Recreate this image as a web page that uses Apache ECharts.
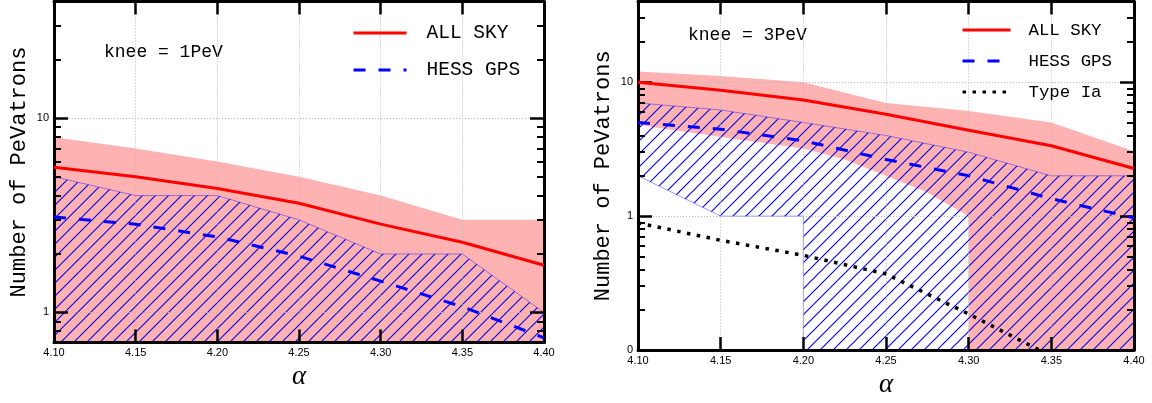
<!DOCTYPE html>
<html>
<head>
<meta charset="utf-8">
<script src="https://cdn.jsdelivr.net/npm/echarts@6/dist/echarts.min.js"></script>
<style>
html, body { margin: 0; padding: 0; background: #fff; }
#chart { width: 1152px; height: 403px; }
</style>
</head>
<body>
<div id="chart"></div>
<script>
var alpha = [4.10, 4.15, 4.20, 4.25, 4.30, 4.35, 4.40]

// knee = 1PeV
var allSky1 = [5.6, 5.0, 4.35, 3.65, 2.85, 2.3, 1.75]
var allSkyHi1 = [8, 7, 6, 5, 4, 3, 3]
var allSkyLo1 = [0, 0, 0, 0, 0, 0, 0]
var hess1 = [3.1, 2.85, 2.45, 1.95, 1.45, 1.07, 0.74]
var hessHi1 = [5, 4, 4, 3, 2, 2, 1]
var hessLo1 = [0, 0, 0, 0, 0, 0, 0]

// knee = 3PeV
var allSky2 = [10, 8.7, 7.35, 5.77, 4.38, 3.35, 2.27]
var allSkyHi2 = [12, 11.1, 10, 7, 6.1, 5, 3.05]
var allSkyLoX2 = [4.10, 4.15, 4.20, 4.225, 4.25, 4.275, 4.30, 4.30, 4.40]
var allSkyLo2 = [4.8, 3.9, 3.2, 2.65, 2.0, 1.5, 1.0, 0, 0]
var hess2 = [5.0, 4.45, 3.65, 2.65, 2.0, 1.35, 0.97]
var hessHi2 = [7, 6.2, 5, 4, 3, 2, 2]
var hessLoX2 = [4.10, 4.15, 4.20, 4.20, 4.40]
var hessLo2 = [2, 1, 1, 0, 0]
var typeIa2 = [0.89, 0.66, 0.51, 0.37, 0.186, 0.09, null]

// y ticks
var yTicks1 = [1, 10]
var yLabels1 = ["1", "10"]
var yMinor1 = [0.8, 0.9, 2, 3, 4, 5, 6, 7, 8, 9, 20, 30]
var yTicks2 = [0.1, 1, 10]
var yLabels2 = ["0", "1", "10"]
var yMinor2 = [0.2, 0.3, 0.4, 0.5, 0.6, 0.7, 0.8, 0.9, 2, 3, 4, 5, 6, 7, 8, 9, 20, 30]

var MONO = '"Liberation Mono", "DejaVu Sans Mono", monospace'
var SANS = '"Liberation Sans", Arial, sans-serif'
var PINK = "#ffb2b2"

function makeHatch() {
  var s = 13
  var c = document.createElement("canvas")
  c.width = s
  c.height = s
  var g = c.getContext("2d")
  g.strokeStyle = "#0000ff"
  g.lineWidth = 1.1
  g.beginPath()
  g.moveTo(-s, s); g.lineTo(s, -s)
  g.moveTo(0, s); g.lineTo(s, 0)
  g.moveTo(0, 2 * s); g.lineTo(2 * s, 0)
  g.stroke()
  return { image: c, repeat: "repeat" }
}
var hatch = makeHatch()

function xAxes(grid) {
  var common = {
    type: "value", gridIndex: grid, min: 4.1, max: 4.4, interval: 0.05, z: 3,
    axisLine: { show: true, lineStyle: { color: "#000", width: 3 } },
    axisTick: { show: true, inside: true, length: 13, lineStyle: { color: "#000", width: 2.5 } }
  }
  var bottom = Object.assign({}, common, {
    position: "bottom",
    axisLabel: { show: true, margin: 5, fontSize: 11, fontFamily: SANS, color: "#000",
      formatter: function (v) { return v.toFixed(2) } },
    splitLine: { show: true, lineStyle: { color: "#b8b8b8", width: 1, type: [1, 2] } },
    name: "α", nameLocation: "middle", nameGap: 20,
    nameTextStyle: { fontFamily: '"Liberation Serif", "DejaVu Serif", serif', fontStyle: "italic", fontSize: 27, color: "#000" }
  })
  var top = Object.assign({}, common, {
    position: "top", axisLabel: { show: false }, splitLine: { show: false }
  })
  return [bottom, top]
}

function yAxes(grid, min, max, ticks, labels, minors) {
  var base = { type: "log", logBase: 10, gridIndex: grid, min: min, max: max, z: 3,
    axisLine: { show: false }, axisLabel: { show: false }, splitLine: { show: false } }
  var majorTick = { show: true, inside: true, length: 14, customValues: ticks, lineStyle: { color: "#000", width: 2.5 } }
  var minorTick = { show: true, inside: true, length: 7, customValues: minors, lineStyle: { color: "#000", width: 2 } }
  return [
    Object.assign({}, base, {
      position: "left",
      axisLine: { show: true, lineStyle: { color: "#000", width: 3 } },
      axisTick: majorTick,
      axisLabel: { show: true, customValues: ticks, margin: 5, fontSize: 11, fontFamily: SANS, color: "#000",
        formatter: function (v) {
          for (var i = 0; i < ticks.length; i++) if (Math.abs(v - ticks[i]) < ticks[i] * 1e-6) return labels[i]
          return ""
        } },
      splitLine: { show: true, lineStyle: { color: "#b8b8b8", width: 1, type: [1, 2] } },
      name: "Number of PeVatrons", nameLocation: "middle", nameGap: 24,
      nameTextStyle: { fontFamily: MONO, fontSize: 22, color: "#000" }
    }),
    Object.assign({}, base, { position: "left", axisTick: minorTick }),
    Object.assign({}, base, { position: "right",
      axisLine: { show: true, lineStyle: { color: "#000", width: 3 } }, axisTick: majorTick }),
    Object.assign({}, base, { position: "right", axisTick: minorTick })
  ]
}

function band(xi, yi, upX, upY, loX, loY, yMin, fill, stroke, z) {
  return {
    type: "custom", xAxisIndex: xi, yAxisIndex: yi, z: z, clip: true, silent: true,
    data: [[upX[0], upY[0]]],
    renderItem: function (params, api) {
      var pts = []
      for (var i = 0; i < upX.length; i++) pts.push(api.coord([upX[i], Math.max(upY[i], yMin)]))
      for (var j = loX.length - 1; j >= 0; j--) pts.push(api.coord([loX[j], Math.max(loY[j], yMin)]))
      return { type: "polygon", shape: { points: pts },
        style: { fill: fill, stroke: stroke, lineWidth: stroke ? 1 : 0 } }
    }
  }
}

function line(name, xi, yi, ys, color, dash, width) {
  var d = []
  for (var i = 0; i < alpha.length; i++) if (ys[i] != null) d.push([alpha[i], ys[i]])
  return {
    name: name, type: "line", xAxisIndex: xi, yAxisIndex: yi, data: d, symbol: "none", z: 5, silent: true,
    lineStyle: { color: color, width: width, type: dash, cap: "butt" }, itemStyle: { color: color }
  }
}

var myChart = echarts.init(document.getElementById("chart"))
var option = {
  animation: false,
  backgroundColor: "#fff",
  grid: [
    { left: 54, top: 1.5, width: 490, height: 341 },
    { left: 638, top: 1.5, width: 496, height: 351 }
  ],
  xAxis: xAxes(0).concat(xAxes(1)),
  yAxis: yAxes(0, 0.7, 40, yTicks1, yLabels1, yMinor1).concat(yAxes(1, 0.1, 40, yTicks2, yLabels2, yMinor2)),
  legend: [
    { orient: "vertical", left: 352, top: 23, padding: 0, itemWidth: 53, itemHeight: 20, itemGap: 17, selectedMode: false,
      data: ["ALL SKY", "HESS GPS"], itemStyle: { opacity: 0 }, lineStyle: { width: 3 },
      textStyle: { fontFamily: MONO, fontSize: 19.5, lineHeight: 20, color: "#000", padding: [0, 0, 0, 15] } },
    { orient: "vertical", left: 961, top: 21, padding: 0, itemWidth: 48, itemHeight: 18, itemGap: 13, selectedMode: false,
      data: ["ALL SKY", "HESS GPS", "Type Ia"], itemStyle: { opacity: 0 }, lineStyle: { width: 3 },
      textStyle: { fontFamily: MONO, fontSize: 17.4, lineHeight: 18, color: "#000", padding: [0, 0, 0, 13] } }
  ],
  graphic: [
    { type: "text", x: 104, y: 52, style: { text: "knee = 1PeV", fontFamily: MONO, fontSize: 18, fill: "#000", verticalAlign: "middle" } },
    { type: "text", x: 688, y: 35, style: { text: "knee = 3PeV", fontFamily: MONO, fontSize: 18, fill: "#000", verticalAlign: "middle" } }
  ],
  series: [
    band(0, 0, alpha, allSkyHi1, alpha, allSkyLo1, 0.7, PINK, null, 1),
    band(0, 0, alpha, hessHi1, alpha, hessLo1, 0.7, hatch, "rgba(0,0,255,0.4)", 2),
    line("ALL SKY", 0, 0, allSky1, "#ff0000", "solid", 3),
    line("HESS GPS", 0, 0, hess1, "#0000ff", [12, 13], 3),

    band(2, 4, alpha, allSkyHi2, allSkyLoX2, allSkyLo2, 0.1, PINK, null, 1),
    band(2, 4, alpha, hessHi2, hessLoX2, hessLo2, 0.1, hatch, "rgba(0,0,255,0.4)", 2),
    line("ALL SKY", 2, 4, allSky2, "#ff0000", "solid", 3),
    line("HESS GPS", 2, 4, hess2, "#0000ff", [12, 13], 3),
    line("Type Ia", 2, 4, typeIa2, "#000000", [3.5, 6.5], 3.5)
  ]
}
myChart.setOption(option)
</script>
</body>
</html>
